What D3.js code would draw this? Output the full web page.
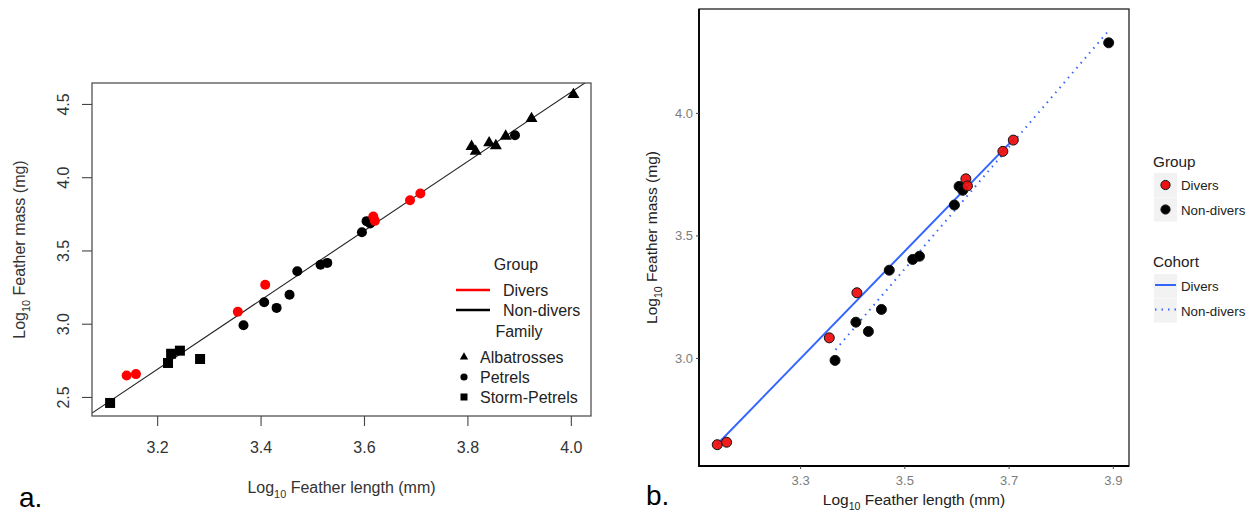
<!DOCTYPE html>
<html><head><meta charset="utf-8">
<script src="https://cdn.jsdelivr.net/npm/d3@7"></script>
<style>
html,body{margin:0;padding:0;background:#fff;}
svg{display:block;font-family:"Liberation Sans",Arial,sans-serif;}
</style></head><body>
<svg id="c" width="1259" height="513"></svg>
<script>
// ---------- data ----------
// Petrels (shared by both panels): [log10 length, log10 mass, group]
const petrelX =   [3.141, 3.159, 3.356, 3.367, 3.409, 3.407, 3.431, 3.456, 3.471, 3.516, 3.529, 3.596, 3.605, 3.612, 3.618, 3.621, 3.689, 3.709, 3.892];
const petrelY =   [2.646, 2.656, 3.082, 2.990, 3.266, 3.146, 3.108, 3.198, 3.358, 3.402, 3.415, 3.624, 3.700, 3.684, 3.731, 3.702, 3.843, 3.889, 4.286];
const petrelGrp = ["Divers","Divers","Divers","Non-divers","Divers","Non-divers","Non-divers","Non-divers","Non-divers","Non-divers","Non-divers","Non-divers","Non-divers","Non-divers","Divers","Divers","Divers","Divers","Non-divers"];
// Albatrosses (all non-divers)
const albX = [3.808, 3.816, 3.842, 3.855, 3.874, 3.924, 4.005];
const albY = [4.210, 4.176, 4.234, 4.215, 4.280, 4.400, 4.564];
// Storm-petrels (all non-divers)
const stormX = [3.109, 3.221, 3.227, 3.244, 3.283];
const stormY = [2.459, 2.732, 2.795, 2.816, 2.759];

// Fitted lines: [intercept, slope, xmin, xmax]
const fitAll = [-4.877, 2.364];
const fitDivers = [-4.231, 2.19, 3.141, 3.711];
const fitNonDivers = [-5.336, 2.485, 3.368, 3.892];

// ticks
const ticksAX = [3.2, 3.4, 3.6, 3.8, 4.0];
const ticksAY = [2.5, 3.0, 3.5, 4.0, 4.5];
const ticksBX = [3.3, 3.5, 3.7, 3.9];
const ticksBY = [3.0, 3.5, 4.0];

const groups = ["Divers", "Non-divers"];
const families = ["Albatrosses", "Petrels", "Storm-Petrels"];
const colA = {"Divers":"#ff0000","Non-divers":"#000000"};
const colB = {"Divers":"#ee1111","Non-divers":"#000000"};

const svg = d3.select("#c");

function logLabel(sel, rest, size){
  sel.append("tspan").text("Log");
  sel.append("tspan").text("10").attr("font-size", size*0.68).attr("dy", size*0.3);
  sel.append("tspan").text(rest).attr("dy", -size*0.3);
}

// ================= Panel a =================
{
  const L=92, R=591, T=83, B=416;
  const x = d3.scaleLinear().domain([3.074, 4.039]).range([L, R]);
  const y = d3.scaleLinear().domain([2.370, 4.643]).range([B, T]);
  const g = svg.append("g");
  const tc = "#333";

  g.append("clipPath").attr("id","clipA").append("rect")
    .attr("x",L).attr("y",T).attr("width",R-L).attr("height",B-T);

  // fit line
  const xs = x.domain();
  g.append("line").attr("clip-path","url(#clipA)")
    .attr("x1", x(xs[0])).attr("y1", y(fitAll[0]+fitAll[1]*xs[0]))
    .attr("x2", x(xs[1])).attr("y2", y(fitAll[0]+fitAll[1]*xs[1]))
    .attr("stroke","#222").attr("stroke-width",1.1);

  // storm petrels squares
  const sq = 10;
  g.selectAll(".sq").data(stormX).join("rect")
    .attr("x",(d)=>x(d)-sq/2).attr("y",(d,i)=>y(stormY[i])-sq/2)
    .attr("width",sq).attr("height",sq).attr("fill","#000");
  // albatross triangles
  const tri = d3.symbol().type(d3.symbolTriangle).size(62);
  g.selectAll(".tri").data(albX).join("path")
    .attr("d",tri).attr("transform",(d,i)=>`translate(${x(d)},${y(albY[i])})`).attr("fill","#000");
  // petrels circles
  g.selectAll(".pc").data(petrelX).join("circle")
    .attr("cx",d=>x(d)).attr("cy",(d,i)=>y(petrelY[i])).attr("r",5)
    .attr("fill",(d,i)=>colA[petrelGrp[i]]);

  // box
  g.append("rect").attr("x",L).attr("y",T).attr("width",R-L).attr("height",B-T)
    .attr("fill","none").attr("stroke","#444").attr("stroke-width",1.2);

  // x axis
  const xa = g.append("g").attr("transform",`translate(0,${B})`)
    .call(d3.axisBottom(x).tickValues(ticksAX).tickFormat(d3.format(".1f")).tickSize(10).tickSizeOuter(0));
  xa.select(".domain").remove();
  xa.selectAll("line").attr("stroke","#444").attr("stroke-width",1.1);
  xa.selectAll("text").attr("font-size",16).attr("fill",tc).attr("font-family","Liberation Sans, Arial").attr("y",26).attr("dy","0.71em");

  // y axis
  const ya = g.append("g").attr("transform",`translate(${L},0)`)
    .call(d3.axisLeft(y).tickValues(ticksAY).tickFormat(d3.format(".1f")).tickSize(10).tickSizeOuter(0));
  ya.select(".domain").remove();
  ya.selectAll("line").attr("stroke","#444").attr("stroke-width",1.1);
  ya.selectAll("text").attr("font-size",16).attr("fill",tc).attr("font-family","Liberation Sans, Arial")
    .attr("x",null).attr("dy",null).attr("text-anchor","middle")
    .attr("transform","translate(-29,0) rotate(-90)").attr("y",0).attr("dominant-baseline","central");

  // titles
  const xt = g.append("text").attr("x",(L+R)/2).attr("y",493).attr("text-anchor","middle")
    .attr("font-size",16).attr("fill",tc);
  logLabel(xt," Feather length (mm)",16);
  const yt = g.append("text").attr("transform",`translate(25,${(T+B)/2}) rotate(-90)`)
    .attr("text-anchor","middle").attr("font-size",16).attr("fill",tc);
  logLabel(yt," Feather mass (mg)",16);

  // legend
  const lg = g.append("g").attr("font-size",16).attr("fill","#222");
  lg.append("text").attr("x",516).attr("y",270).attr("text-anchor","middle").text("Group");
  groups.forEach((gr,i)=>{
    const yy = 290 + i*20;
    lg.append("line").attr("x1",456).attr("x2",490).attr("y1",yy).attr("y2",yy)
      .attr("stroke",colA[gr]).attr("stroke-width",2.5);
    lg.append("text").attr("x",503).attr("y",yy+6).text(gr);
  });
  lg.append("text").attr("x",519).attr("y",337).attr("text-anchor","middle").text("Family");
  families.forEach((f,i)=>{
    const yy = 357 + i*20;
    let sym;
    if(i===0) sym = lg.append("path").attr("d",d3.symbol().type(d3.symbolTriangle).size(30)).attr("transform",`translate(464,${yy})`);
    else if(i===1) sym = lg.append("circle").attr("cx",464).attr("cy",yy).attr("r",3.6);
    else sym = lg.append("rect").attr("x",460.5).attr("y",yy-3.5).attr("width",7).attr("height",7);
    sym.attr("fill","#000");
    lg.append("text").attr("x",480).attr("y",yy+6).text(f);
  });

  svg.append("text").attr("x",19).attr("y",507).attr("font-size",28).attr("fill","#000")
    .attr("font-family","Liberation Sans, Arial").text("a.");
}

// ================= Panel b =================
{
  const L=699, R=1129, T=9, B=466;
  const x = d3.scaleLinear().domain([3.106, 3.931]).range([L, R]);
  const y = d3.scaleLinear().domain([2.559, 4.424]).range([B, T]);
  const g = svg.append("g");
  const blue = "#3366ff";

  // fit lines
  const lineFn = (f)=>[[f[2], f[0]+f[1]*f[2]],[f[3], f[0]+f[1]*f[3]]];
  const ln = d3.line().x(d=>x(d[0])).y(d=>y(d[1]));
  g.append("path").attr("d",ln(lineFn(fitNonDivers))).attr("fill","none")
    .attr("stroke",blue).attr("stroke-width",2).attr("stroke-dasharray","1.5,5");
  g.append("path").attr("d",ln(lineFn(fitDivers))).attr("fill","none")
    .attr("stroke",blue).attr("stroke-width",2);

  // points
  g.selectAll(".pb").data(petrelX).join("circle")
    .attr("cx",d=>x(d)).attr("cy",(d,i)=>y(petrelY[i])).attr("r",5)
    .attr("fill",(d,i)=>colB[petrelGrp[i]]).attr("stroke","#111").attr("stroke-width",1)
    .attr("fill-opacity",(d,i)=>petrelGrp[i]==="Divers"?0.95:1);

  // border
  g.append("rect").attr("x",L).attr("y",T).attr("width",R-L).attr("height",B-T)
    .attr("fill","none").attr("stroke","#222").attr("stroke-width",1.3);
  g.append("path").attr("d",`M${L},${T}V${B}H${R}`).attr("fill","none").attr("stroke","#000").attr("stroke-width",1.8);

  const tcol = "#7d7d7d";
  const xa = g.append("g").attr("transform",`translate(0,${B})`)
    .call(d3.axisBottom(x).tickValues(ticksBX).tickFormat(d3.format(".1f")).tickSize(3).tickSizeOuter(0));
  xa.select(".domain").remove();
  xa.selectAll("line").attr("stroke","#444");
  xa.selectAll("text").attr("font-size",13).attr("fill",tcol).attr("font-family","Liberation Sans, Arial").attr("y",10);

  const ya = g.append("g").attr("transform",`translate(${L},0)`)
    .call(d3.axisLeft(y).tickValues(ticksBY).tickFormat(d3.format(".1f")).tickSize(3).tickSizeOuter(0));
  ya.select(".domain").remove();
  ya.selectAll("line").attr("stroke","#444");
  ya.selectAll("text").attr("font-size",13).attr("fill",tcol).attr("font-family","Liberation Sans, Arial").attr("x",-6);

  const xt = g.append("text").attr("x",(L+R)/2).attr("y",505).attr("text-anchor","middle")
    .attr("font-size",15.5).attr("fill","#222");
  logLabel(xt," Feather length (mm)",15.5);
  const yt = g.append("text").attr("transform",`translate(657,${(T+B)/2}) rotate(-90)`)
    .attr("text-anchor","middle").attr("font-size",15.5).attr("fill","#222");
  logLabel(yt," Feather mass (mg)",15.5);

  // legends
  const lg = g.append("g").attr("font-size",13.3).attr("fill","#222");
  lg.append("text").attr("x",1153).attr("y",167).attr("font-size",15.3).text("Group");
  groups.forEach((gr,i)=>{
    const y0 = 173 + i*24.5;
    lg.append("rect").attr("x",1154).attr("y",y0).attr("width",23).attr("height",24).attr("fill","#f2f2f2");
    lg.append("circle").attr("cx",1165.5).attr("cy",y0+12).attr("r",4.6)
      .attr("fill",colB[gr]).attr("stroke","#111").attr("stroke-width",1);
    lg.append("text").attr("x",1181).attr("y",y0+17).text(gr);
  });
  lg.append("text").attr("x",1153).attr("y",267).attr("font-size",15.3).text("Cohort");
  groups.forEach((gr,i)=>{
    const y0 = 274 + i*24.5;
    lg.append("rect").attr("x",1154).attr("y",y0).attr("width",23).attr("height",24).attr("fill","#f2f2f2");
    lg.append("line").attr("x1",1155).attr("x2",1176).attr("y1",y0+11).attr("y2",y0+11)
      .attr("stroke",blue).attr("stroke-width",2)
      .attr("stroke-dasharray", gr==="Divers"?null:"1.5,5");
    lg.append("text").attr("x",1181).attr("y",y0+17).text(gr);
  });

  svg.append("text").attr("x",646).attr("y",505).attr("font-size",28).attr("fill","#000")
    .attr("font-family","Liberation Sans, Arial").text("b.");
}
</script>
</body></html>
